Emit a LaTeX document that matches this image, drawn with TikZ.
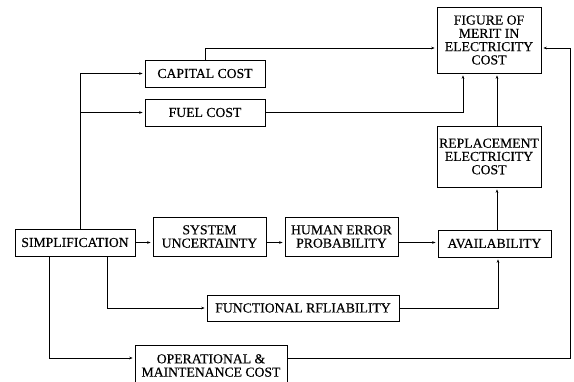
\documentclass[tikz,border=0pt]{standalone}
\usepackage{fontspec}
\setmainfont{Liberation Serif}
\newfontfamily\boxfont{Liberation Serif}[FakeBold=0.35]
\usetikzlibrary{arrows.meta}
\begin{document}
\begin{tikzpicture}[x=1pt,y=-1pt,
  box/.style={draw,line width=0.7pt,inner sep=0pt,align=center,font=\boxfont\fontsize{13.7}{13.3}\selectfont},
  conn/.style={line width=0.6pt,-{Stealth[length=3.5pt,width=2.6pt]},shorten >=2pt}]
\useasboundingbox (0,0) rectangle (574,382);
\node[box,minimum width=120pt,minimum height=27pt] (cap) at (205,73.5) {CAPITAL COST};
\node[box,minimum width=120pt,minimum height=27pt] (fuel) at (205,112.5) {FUEL COST};
\node[box,minimum width=104pt,minimum height=66pt] (fom) at (489,40) {FIGURE OF\\MERIT IN\\ELECTRICITY\\COST};
\node[box,minimum width=104pt,minimum height=61pt] (repl) at (489,156.5) {REPLACEMENT\\ELECTRICITY\\COST};
\node[box,minimum width=120pt,minimum height=27pt] (simp) at (75,242.5) {SIMPLIFICATION};
\node[box,minimum width=113pt,minimum height=39pt] (sys) at (209.5,236.5) {SYSTEM\\UNCERTAINTY};
\node[box,minimum width=113pt,minimum height=39pt] (hum) at (341.5,236.5) {HUMAN ERROR\\PROBABILITY};
\node[box,minimum width=113pt,minimum height=27pt] (avail) at (494.5,243.5) {AVAILABILITY};
\node[box,minimum width=192pt,minimum height=26pt] (func) at (303,308) {FUNCTIONAL RFLIABILITY};
\node[box,minimum width=152pt,minimum height=41pt] (om) at (211,365.5) {OPERATIONAL \&\\MAINTENANCE COST};
% connectors
\coordinate (j1) at ([xshift=5pt]simp.north |- fuel.west);
\draw[conn] ([xshift=5pt]simp.north) |- (cap.west);
\draw[conn] (j1) -- (fuel.west);
\draw[conn] (cap.north) |- ([yshift=-8pt]fom.west);
\draw[conn] (fuel.east) -| ([xshift=-26pt]fom.south);
\draw[conn] ([xshift=8pt]repl.north) -- ([xshift=8pt]fom.south);
\draw[conn] ([xshift=2.5pt]avail.north) -- ([xshift=8pt]repl.south);
\draw[conn] (simp.east) -- (sys.west |- simp.east);
\draw[conn] (sys.east |- simp.east) -- (hum.west |- simp.east);
\draw[conn] (hum.east |- simp.east) -- (avail.west |- simp.east);
\draw[conn] ([xshift=32pt]simp.south) |- (func.west);
\draw[conn] (func.east) -| ([xshift=3.5pt]avail.south);
\draw[conn] ([xshift=-26pt]simp.south) |- ([yshift=7.5pt]om.west);
\coordinate (rc) at (570,48);
\draw[conn] ([yshift=7.5pt]om.east) -| (rc) -- ([yshift=-8pt]fom.east);
\end{tikzpicture}
\end{document}
